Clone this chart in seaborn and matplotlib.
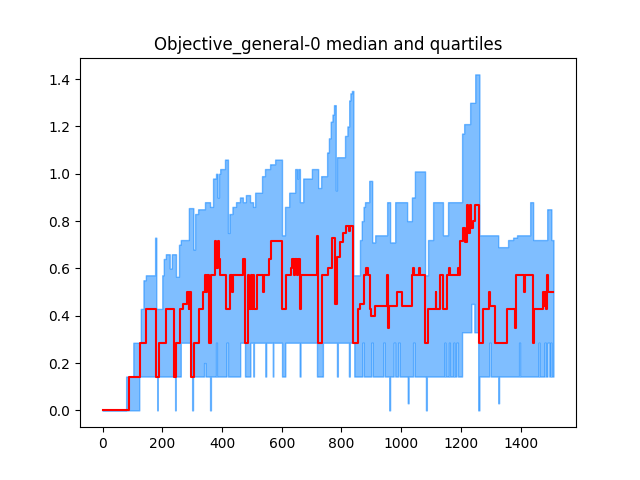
import matplotlib
matplotlib.use("Agg")
import matplotlib.pyplot as plt
import seaborn as sns
import pandas as pd

# step breakpoints (iteration, value)
median_steps = [
    (0, 0), (90, 0.143), (126, 0.286), (146, 0.429), (179, 0.143), (188, 0.286),
    (213, 0.429), (240, 0.143), (246, 0.286), (259, 0.429), (270, 0.45), (283, 0.5),
    (288, 0.43), (291, 0.5), (296, 0.143), (305, 0.286), (323, 0.429), (338, 0.5),
    (342, 0.571), (346, 0.5), (350, 0.571), (357, 0.286), (362, 0.571), (377, 0.714),
    (381, 0.6), (385, 0.714), (389, 0.64), (393, 0.571), (413, 0.429), (428, 0.571),
    (435, 0.5), (438, 0.571), (472, 0.64), (476, 0.286), (486, 0.571), (492, 0.429),
    (496, 0.571), (500, 0.429), (504, 0.571), (508, 0.429), (517, 0.571), (536, 0.5),
    (540, 0.571), (556, 0.64), (564, 0.714), (601, 0.429), (615, 0.571), (630, 0.6),
    (636, 0.64), (640, 0.571), (645, 0.64), (650, 0.571), (655, 0.64), (660, 0.429),
    (664, 0.571), (718, 0.735), (721, 0.286), (735, 0.571), (755, 0.6), (768, 0.73),
    (779, 0.45), (785, 0.65), (795, 0.71), (805, 0.75), (815, 0.78), (825, 0.76),
    (830, 0.78), (840, 0.286), (855, 0.429), (862, 0.45), (876, 0.571), (883, 0.6),
    (890, 0.571), (896, 0.429), (900, 0.4), (913, 0.44), (953, 0.571), (956, 0.35),
    (960, 0.44), (986, 0.5), (1003, 0.44), (1036, 0.571), (1040, 0.6), (1044, 0.571),
    (1060, 0.6), (1064, 0.571), (1080, 0.286), (1090, 0.429), (1115, 0.5), (1118, 0.43),
    (1130, 0.571), (1140, 0.429), (1154, 0.571), (1160, 0.6), (1165, 0.571), (1190, 0.6),
    (1195, 0.571), (1198, 0.714), (1208, 0.77), (1215, 0.71), (1220, 0.87), (1225, 0.75),
    (1230, 0.87), (1235, 0.77), (1240, 0.8), (1248, 0.87), (1262, 0.286), (1275, 0.429),
    (1295, 0.5), (1298, 0.44), (1315, 0.286), (1355, 0.429), (1380, 0.35), (1386, 0.571),
    (1410, 0.5), (1414, 0.571), (1440, 0.286), (1445, 0.429), (1475, 0.5), (1478, 0.44),
    (1482, 0.5), (1485, 0.43), (1490, 0.571), (1492, 0.5), (1510, 0.5),
]

upper_steps = [
    (0, 0), (79, 0.143), (103, 0.286), (128, 0.429), (137, 0.55), (145, 0.571),
    (176, 0.73), (180, 0.429), (200, 0.571), (205, 0.64), (212, 0.66), (225, 0.6),
    (232, 0.66), (246, 0.565), (256, 0.70), (262, 0.72), (289, 0.855), (304, 0.68),
    (310, 0.83), (320, 0.85), (343, 0.88), (360, 0.86), (370, 0.98), (380, 1.0),
    (385, 0.9), (390, 1.0), (394, 1.02), (410, 1.06), (420, 0.75), (425, 0.83),
    (435, 0.86), (447, 0.88), (460, 0.9), (470, 0.88), (480, 0.91), (494, 0.88),
    (504, 0.86), (511, 0.92), (534, 0.99), (544, 1.02), (561, 1.04), (578, 1.06),
    (601, 0.74), (611, 0.86), (625, 0.92), (645, 1.02), (652, 0.98), (655, 1.02),
    (661, 0.88), (672, 0.98), (701, 1.02), (722, 0.94), (732, 0.99), (752, 1.09),
    (758, 1.15), (764, 1.22), (770, 1.25), (775, 1.29), (781, 0.93), (785, 1.07),
    (812, 1.16), (820, 1.2), (826, 1.31), (830, 1.34), (835, 1.35), (840, 0.571),
    (862, 0.72), (868, 0.8), (874, 0.86), (879, 0.88), (893, 0.97), (903, 0.71),
    (913, 0.74), (953, 0.88), (963, 0.71), (980, 0.88), (1020, 0.8), (1036, 0.9),
    (1046, 1.01), (1080, 0.571), (1090, 0.72), (1107, 0.88), (1140, 0.74), (1157, 0.88),
    (1204, 1.17), (1211, 1.21), (1231, 1.30), (1248, 1.42), (1262, 0.74), (1325, 0.69),
    (1358, 0.72), (1375, 0.73), (1388, 0.74), (1432, 0.88), (1442, 0.72), (1489, 0.85),
    (1503, 0.72), (1510, 0.72),
]

lower_steps = [
    (0, 0), (123, 0.143), (183, 0), (185, 0.143), (243, 0), (245, 0.143),
    (262, 0.286), (298, 0.143), (300, 0), (303, 0.143), (340, 0.2), (345, 0.143),
    (360, 0), (363, 0.143), (380, 0.286), (383, 0.143), (415, 0.286), (420, 0.143),
    (461, 0.286), (477, 0.143), (495, 0.286), (505, 0.143), (507, 0.286), (545, 0.143),
    (548, 0.286), (570, 0.143), (572, 0.286), (601, 0.143), (612, 0.286), (660, 0.143),
    (663, 0.286), (718, 0.143), (738, 0.286), (785, 0.143), (788, 0.286), (825, 0.143),
    (828, 0.286), (843, 0.143), (870, 0.286), (875, 0.143), (900, 0.286), (905, 0.143),
    (940, 0.286), (945, 0.143), (960, 0), (963, 0.143), (975, 0.286), (980, 0.143),
    (990, 0.286), (995, 0.143), (1022, 0.03), (1025, 0.143), (1040, 0.286), (1045, 0.143),
    (1083, 0), (1086, 0.143), (1145, 0.286), (1148, 0.143), (1160, 0.286), (1163, 0.143),
    (1175, 0.286), (1178, 0.143), (1185, 0.286), (1190, 0.143), (1204, 0.33), (1235, 0.45),
    (1245, 0.33), (1258, 0), (1262, 0.143), (1295, 0.286), (1300, 0.143), (1325, 0.03),
    (1328, 0.143), (1395, 0.286), (1398, 0.143), (1460, 0.286), (1463, 0.143), (1480, 0.286),
    (1484, 0.143), (1490, 0.286), (1496, 0.143), (1500, 0.286), (1503, 0.143), (1510, 0.143),
]


def to_series(steps):
    xs, ys = zip(*steps)
    return pd.Series(ys, index=xs, dtype=float)


med = to_series(median_steps)
up = to_series(upper_steps)
low = to_series(lower_steps)
idx = sorted(set(med.index) | set(up.index) | set(low.index))
df = pd.DataFrame({
    "iteration": idx,
    "median": med.reindex(idx).ffill().values,
    "upper": up.reindex(idx).ffill().values,
    "lower": low.reindex(idx).ffill().values,
})

fig, ax = plt.subplots(figsize=(6.4, 4.8), dpi=100)
ax.fill_between(df["iteration"], df["lower"], df["upper"], step="post",
                color="#007FFF", alpha=0.5)
sns.lineplot(data=df, x="iteration", y="median", ax=ax, color="red",
             linewidth=1.5, drawstyle="steps-post")
ax.set_xlabel("")
ax.set_ylabel("")
ax.set_title("Objective_general-0 median and quartiles")

plt.savefig("out.png", dpi=100)
